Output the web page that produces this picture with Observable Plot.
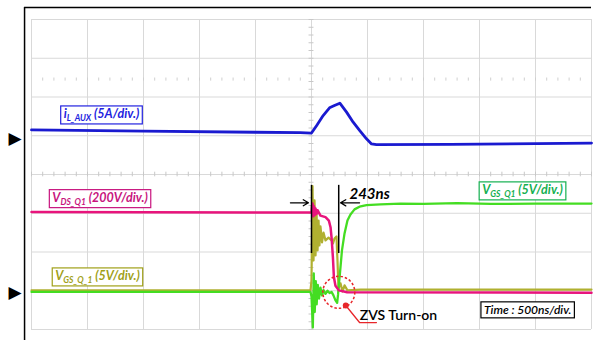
<!DOCTYPE html>
<html><head><meta charset="utf-8">
<script src="https://cdn.jsdelivr.net/npm/d3@7"></script>
<script src="https://cdn.jsdelivr.net/npm/@observablehq/plot@0.6"></script>
<style>body{margin:0;background:#fff}</style>
</head><body><div id="chart"></div>
<script>
// Time in ns (500 ns/div, trigger at 0); vertical position in screen divisions (centre = 0)
const iLauxTime = [-2500,-1500,-500,-100,0,45,104,161,205,253,313,372,431,491,536,580,1240,2500];
const iLauxDiv  = [1.15,1.12,1.09,1.08,1.07,1.26,1.52,1.72,1.78,1.84,1.61,1.35,1.13,0.92,0.79,0.77,0.78,0.81];

const vdsTime = [-2500,-60,0,5,10,16,22,29,36,45,54,80,125,155,170,179,191,200,214,244,318,2500];
const vdsDiv  = [-0.97,-0.98,-0.98,-0.80,-0.75,-1.08,-0.82,-1.05,-0.88,-1.02,-0.92,-1.06,-1.10,-1.19,-1.36,-1.62,-2.13,-2.65,-2.87,-2.99,-3.04,-3.05];

const vgsAuxTime = [-2500,-200,-9,0,9,18,27,36,45,54,63,71,80,94,107,125,152,179,192,205,223,232,241,259,277,295,321,438,2500];
const vgsAuxDiv  = [-2.99,-2.99,-2.99,-2.74,-0.30,-2.22,-0.67,-2.09,-0.98,-1.96,-1.19,-1.83,-1.34,-1.75,-1.50,-1.70,-1.63,-1.70,-1.78,-1.65,-1.60,-2.22,-2.94,-2.81,-3.02,-2.86,-2.99,-2.97,-2.97];

const vgsQ1Time = [-2500,-1200,-9,0,12,20,29,38,46,56,67,80,94,107,125,143,161,179,196,214,229,237,241,254,272,295,321,348,384,429,491,616,795,1000,1300,1600,2000,2500];
const vgsQ1Div  = [-3.03,-3.03,-3.03,-3.15,-3.95,-2.55,-3.55,-2.75,-3.35,-2.85,-3.20,-2.92,-3.12,-2.98,-3.08,-3.00,-3.06,-3.03,-3.12,-3.25,-3.31,-3.10,-2.94,-2.55,-1.96,-1.52,-1.19,-1.03,-0.90,-0.83,-0.79,-0.77,-0.75,-0.76,-0.74,-0.76,-0.75,-0.75];

const groundMarkers = [0.94, -3.05];

const labels = [
  {text: "i|L_AUX| (5A/div.)",     t: -1875, d: 1.55,  color: "#2222e0"},
  {text: "V|DS_Q1| (200V/div.)",   t: -1888, d: -0.61, color: "#c8147e"},
  {text: "V|GS_Q_1| (5V/div.)",    t: -1911, d: -2.63, color: "#a0a018"},
  {text: "V|GS_Q1| (5V/div.)",     t: 1884,  d: -0.41, color: "#14b050"},
  {text: "Time : 500ns/div.",      t: 1930,  d: -3.51, color: "#000000"}
];

const rows = (ts, ds) => ts.map((t, i) => ({t, d: ds[i]}));

const gridT = d3.range(-2500, 2501, 500);
const gridD = d3.range(-4, 4.001, 1);
const lblFont = "Lato, 'Open Sans', sans-serif";

const chart = Plot.plot({
  width: 596, height: 340,
  marginLeft: 31, marginRight: 5, marginTop: 19, marginBottom: 11,
  x: {domain: [-2500, 2500], axis: null},
  y: {domain: [-4, 4], axis: null},
  style: {background: "white", overflow: "visible"},
  marks: [
    Plot.ruleX(gridT, {y1: -4, y2: 4, stroke: "#d9d9d9", strokeWidth: 1}),
    Plot.ruleY(gridD, {x1: -2500, x2: 2500, stroke: "#d9d9d9", strokeWidth: 1}),
    Plot.ruleX(d3.range(-2500, 2501, 100), {y1: -0.06, y2: 0.06, stroke: "#c8c8c8"}),
    Plot.ruleY(d3.range(-4, 4.001, 0.2), {x1: -22, x2: 22, stroke: "#c8c8c8"}),
    Plot.ruleX(d3.range(-2400, 2500, 100), {y1: 2.41, y2: 2.49, stroke: "#cfcfcf"}),
    Plot.line(rows(vgsAuxTime, vgsAuxDiv), {x: "t", y: "d", stroke: "#b0b030", strokeWidth: 2.2}),
    Plot.line(rows(vgsQ1Time, vgsQ1Div), {x: "t", y: "d", stroke: "#44dd22", strokeWidth: 2.3}),
    Plot.line(rows(vdsTime, vdsDiv), {x: "t", y: "d", stroke: "#e8147c", strokeWidth: 2.5}),
    Plot.line(rows(iLauxTime, iLauxDiv), {x: "t", y: "d", stroke: "#1a1ad0", strokeWidth: 2.8}),
    // instrument frame
    Plot.ruleY([4.31], {x1: -2562, x2: 2500, stroke: "black", strokeWidth: 1.5}),
    Plot.ruleX([-2562], {y1: 4.31, y2: -4.3, stroke: "black", strokeWidth: 1.5}),
    // ground markers
    Plot.text(groundMarkers, {x: -2647, y: d => d, text: () => "▶", fontSize: 17, fill: "black", fontFamily: "DejaVu Sans"}),
    // 243 ns annotation
    Plot.ruleX([0, 243], {y1: -0.28, y2: -2.04, stroke: "black", strokeWidth: 1.5}),
    Plot.arrow([{x1: -188, x2: -27}, {x1: 429, x2: 259}], {x1: "x1", x2: "x2", y1: -0.73, y2: -0.73, stroke: "black", strokeWidth: 1.3, headLength: 7}),
    Plot.text(["243ns"], {x: 339, y: -0.50, text: d => d, textAnchor: "start", fontSize: 15, fontWeight: "bold", fontStyle: "italic", fontFamily: lblFont, fill: "black"}),
    // ZVS marker
    Plot.dot([{t: 244, d: -3.04}], {x: "t", y: "d", r: 16, stroke: "#e8262a", strokeWidth: 1.5, strokeDasharray: "2.5,2", fill: "none"}),
    Plot.line([{t: 306, d: -3.38}, {t: 429, d: -3.82}, {t: 580, d: -3.82}], {x: "t", y: "d", stroke: "#e8262a", strokeWidth: 1.3}),
    Plot.dot([{t: 306, d: -3.38}], {x: "t", y: "d", r: 3, fill: "#e8262a"}),
    Plot.text(["ZVS Turn-on"], {x: 431, y: -3.64, text: d => d, textAnchor: "start", fontSize: 14, fontWeight: 600, fontFamily: lblFont, fill: "black"}),
    // channel labels
    ...labels.map(l => Plot.text([l], {x: "t", y: "d", text: "text", fill: l.color, fontSize: l.color === "#000000" ? 12 : 12.5, fontWeight: l.color === "#000000" ? 600 : "bold", fontStyle: "italic", fontFamily: lblFont}))
  ]
});
document.getElementById("chart").append(chart);

const ns = "http://www.w3.org/2000/svg";
chart.querySelectorAll("text").forEach(el => {
  const l = labels.find(l => l.text === el.textContent);
  if (!l) return;
  const parts = l.text.split("|");
  while (el.firstChild) el.removeChild(el.firstChild);
  const add = (s, attrs) => {
    const ts = document.createElementNS(ns, "tspan");
    ts.textContent = s;
    for (const k in attrs) ts.setAttribute(k, attrs[k]);
    el.appendChild(ts);
  };
  add(parts[0], {});
  if (parts.length === 3) {
    add(parts[1], {"font-size": 8.5, dy: 3});
    add(parts[2], {dy: -3});
  }
  const b = el.getBBox();
  const r = document.createElementNS(ns, "rect");
  r.setAttribute("x", b.x - 3);
  r.setAttribute("y", b.y - 0.5);
  r.setAttribute("width", b.width + 6);
  r.setAttribute("height", b.height + 1);
  if (el.getAttribute("transform")) r.setAttribute("transform", el.getAttribute("transform"));
  r.setAttribute("fill", "white");
  r.setAttribute("stroke", l.color);
  r.setAttribute("stroke-width", 1.2);
  el.parentNode.insertBefore(r, el);
});
</script></body></html>
